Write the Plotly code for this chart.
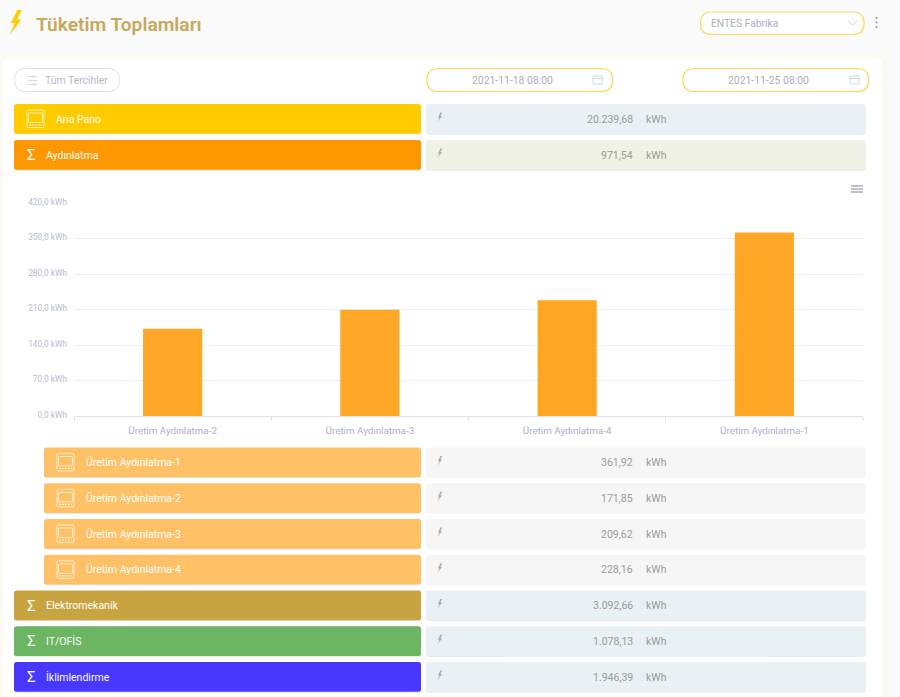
import plotly.graph_objects as go

# --- chart data
categories = ["Üretim Aydınlatma-2", "Üretim Aydınlatma-3", "Üretim Aydınlatma-4", "Üretim Aydınlatma-1"]
consumption = [171.85, 209.62, 228.16, 361.92]
y_ticks = [0, 70, 140, 210, 280, 350, 420]
y_labels = ["0,0 kWh", "70,0 kWh", "140,0 kWh", "210,0 kWh", "280,0 kWh", "350,0 kWh", "420,0 kWh"]

# --- panel rows
row_names = ["Ana Pano", "Aydınlatma", "Üretim Aydınlatma-1", "Üretim Aydınlatma-2", "Üretim Aydınlatma-3",
             "Üretim Aydınlatma-4", "Elektromekanik", "IT/OFİS", "İklimlendirme"]
row_values = ["20.239,68", "971,54", "361,92", "171,85", "209,62", "228,16", "3.092,66", "1.078,13", "1.946,39"]
row_units = ["kWh"] * 9
row_colors = ["#FFCC00", "#FF9800", "#FFC166", "#FFC166", "#FFC166", "#FFC166", "#C8A440", "#6BB563", "#4838FF"]
row_value_bgs = ["#E9F1F5", "#F0F2E6", "#F6F6F6", "#F6F6F6", "#F6F6F6", "#F6F6F6", "#E9F1F5", "#E9F1F5", "#E9F1F5"]
row_kinds = ["panel", "sum", "panel", "panel", "panel", "panel", "sum", "sum", "sum"]
row_tops = [104, 140, 447.5, 483.3, 519, 554.8, 590.5, 626.3, 662]
row_indents = [14, 14, 44, 44, 44, 44, 14, 14, 14]

L, R, T, B = 74, 863, 203, 416
X = lambda x: (x - L) / (R - L)
Y = lambda y: (B - y) / (B - T)
shapes, notes = [], []


def path(d, fill=None, line=None, lw=1, dash=None):
    ln = dict(color=line or "rgba(0,0,0,0)", width=lw if line else 0)
    if dash:
        ln["dash"] = dash
    shapes.append(dict(type="path", path=d, xref="paper", yref="paper", layer="below",
                       fillcolor=fill or "rgba(0,0,0,0)", line=ln))


def rrect(x0, y0, x1, y1, r, fill=None, line=None, lw=1):
    d = (f"M{X(x0+r)},{Y(y0)} L{X(x1-r)},{Y(y0)} Q{X(x1)},{Y(y0)} {X(x1)},{Y(y0+r)} "
         f"L{X(x1)},{Y(y1-r)} Q{X(x1)},{Y(y1)} {X(x1-r)},{Y(y1)} L{X(x0+r)},{Y(y1)} "
         f"Q{X(x0)},{Y(y1)} {X(x0)},{Y(y1-r)} L{X(x0)},{Y(y0+r)} Q{X(x0)},{Y(y0)} {X(x0+r)},{Y(y0)} Z")
    path(d, fill, line, lw)


def poly(points, fill=None, line=None, lw=1, close=True, dash=None):
    d = "M" + " L".join(f"{X(a)},{Y(b)}" for a, b in points) + (" Z" if close else "")
    path(d, fill, line, lw, dash)


def text(x, y, s, size, color, anchor="left", weight=400):
    notes.append(dict(x=X(x), y=Y(y), xref="paper", yref="paper", text=s, showarrow=False,
                      xanchor=anchor, yanchor="middle", borderpad=0,
                      font=dict(family="Roboto", size=size, color=color, weight=weight)))


def bolt(x, y, s, color):
    pts = [(0.62, 0), (0.1, 0.52), (0.42, 0.52), (0, 1), (0.95, 0.38), (0.58, 0.38), (1, 0)]
    poly([(x + a * s * 0.5, y + b * s) for a, b in pts], fill=color)


def panel_icon(x, y):
    c = "rgba(255,255,255,0.75)"
    rrect(x, y, x + 17, y + 17.5, 1.5, line=c, lw=0.9)
    rrect(x + 1.5, y + 3, x + 15.5, y + 12.5, 1, line=c, lw=0.9)
    poly([(x + 2, y + 15), (x + 15, y + 15)], line=c, lw=1.2, close=False, dash="2px,1px")


# page and card
rrect(-3, 54, 886, 710, 8, fill="#FCFAF0")
rrect(3, 57, 882, 710, 6, fill="#FFFFFF")

# header
bolt(9.5, 10, 25, "#FFCC00")
text(34.8, 24, "Tüketim Toplamları", 19.2, "#C8A85A", weight=600)
rrect(700.5, 12, 864, 34.5, 11, fill="#FFFFFF", line="#FFD75E", lw=1.2)
text(709.5, 23, "ENTES Fabrika", 10.3, "#A9AFBD")
poly([(848, 20.5), (852.5, 25.5), (857.5, 20.5)], line="#C0C4CE", lw=0.8, close=False)
for dot_y in (18, 22.5, 27):
    rrect(875.5, dot_y - 1, 877.5, dot_y + 1, 1, fill="#8E939E")

# filter button and date pills
rrect(14.5, 68.5, 119.5, 91.5, 11, fill="#FFFFFF", line="#DDE0E6", lw=1)
text(43.5, 80.5, "Tüm Tercihler", 10.4, "#B4BACB")
for ly, kx in ((76.5, 33), (80.5, 30), (84.5, 34)):
    poly([(28, ly), (37, ly)], line="#C6CAD4", lw=0.7, close=False)
    rrect(kx - 1, ly - 1, kx + 1, ly + 1, 1, fill="#FFFFFF", line="#C6CAD4", lw=0.6)
for px0, px1, label, cal in ((427, 612.5, "2021-11-18 08:00", 593), (683, 868.5, "2021-11-25 08:00", 850)):
    rrect(px0, 68.5, px1, 91.5, 11, fill="#FFFFFF", line="#FFD75E", lw=1.2)
    text((px0 + px1) / 2 - 7.5, 80.5, label, 10.4, "#A9AFBD", anchor="center")
    rrect(cal, 76, cal + 9, 84, 0.5, line="#C6CAD4", lw=0.8)
    poly([(cal, 78.5), (cal + 9, 78.5)], line="#C6CAD4", lw=0.8, close=False)

# rows
for name, val, unit, col, bg, kind, top, left in zip(row_names, row_values, row_units, row_colors,
                                                    row_value_bgs, row_kinds, row_tops, row_indents):
    h = 29.7
    rrect(left, top + 0.7, 421, top + h + 0.7, 2.5, fill="#E6E6E6")
    rrect(left, top, 421, top + h, 2.5, fill=col)
    rrect(426, top + 0.7, 866, top + h + 0.8, 3, fill="#E2E4E6" if bg != "#F6F6F6" else "#F6F6F6")
    rrect(426, top, 866, top + h, 3, fill=bg)
    if kind == "panel":
        panel_icon(left + 13, top + 6)
        text(left + 41, top + 15, name, 10.5, "#FFFFFF")
    else:
        text(left + 11.5, top + 15, "Σ", 15, "#FFFFFF")
        text(left + 31, top + 15, name, 10.5, "#FFFFFF")
    bolt(437.5, top + 8.5, 9.5, "#A5A9B2")
    text(634.2, top + 15, val, 10.5, "#9A9A9A", anchor="right")
    text(645, top + 15, unit, 10.5, "#9A9A9A")

# chart menu icon
for my in (186, 189, 192):
    poly([(851, my), (863, my)], line="#8D93A5", lw=1.1, close=False)

fig = go.Figure(go.Bar(x=categories, y=consumption, marker=dict(color="#FF9800", line=dict(width=0)),
                       opacity=0.85, width=0.3, hoverinfo="skip"))
fig.update_layout(
    width=900, height=697, autosize=False, showlegend=False,
    margin=dict(l=L, r=900 - R, t=T, b=697 - B, pad=0),
    paper_bgcolor="#FAFAFA", plot_bgcolor="rgba(0,0,0,0)",
    font=dict(family="Roboto"), shapes=shapes, annotations=notes,
    xaxis=dict(type="category", tickson="boundaries", ticks="outside", ticklen=4, tickcolor="#E0E3EA", tickwidth=1,
               showline=True, linecolor="#E0E3EA", linewidth=1, showgrid=False, ticklabelstandoff=5,
               tickfont=dict(family="Roboto", size=9.8, color="#A9B2C8"), fixedrange=True),
    yaxis=dict(range=[0, 420], tickmode="array", tickvals=y_ticks, ticktext=y_labels, ticks="", showline=False,
               gridcolor="#EFEFF2", gridwidth=1, zeroline=False, ticklabelstandoff=6, ticklabelshift=-1,
               tickfont=dict(family="Roboto", size=8.4, color="#B4BCD0"), fixedrange=True),
)
fig.write_html("out.html", config=dict(displayModeBar=False),
               post_script="document.body.style.margin='0';document.documentElement.style.overflow='hidden';")
